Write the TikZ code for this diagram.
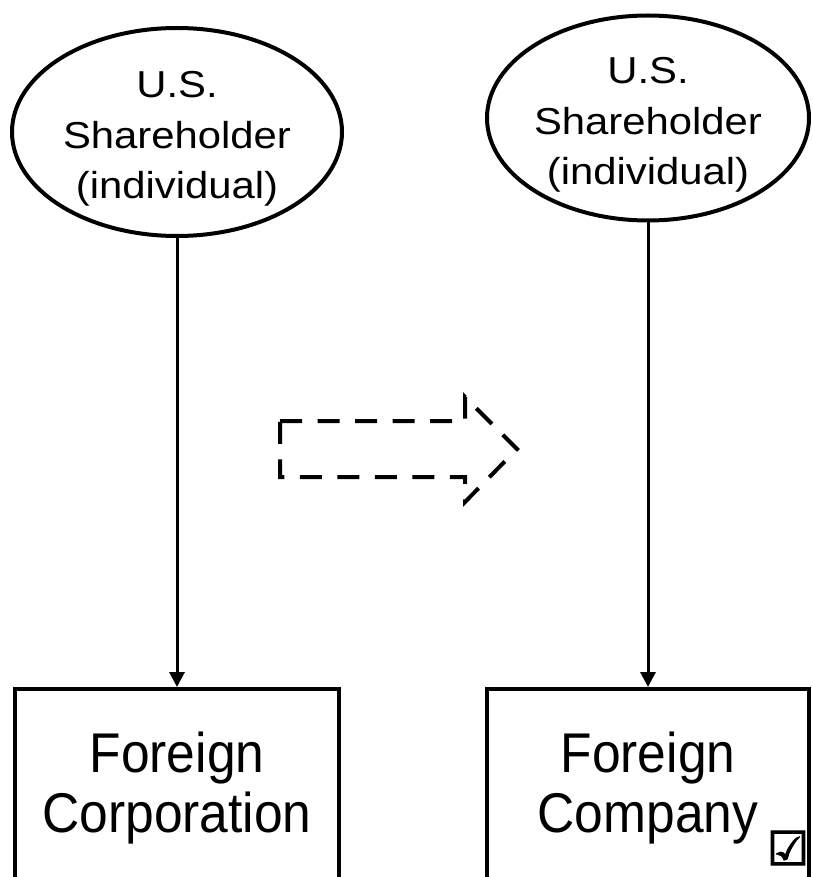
\documentclass[tikz,border=0pt]{standalone}
\usepackage{fontspec}
\setmainfont{Liberation Sans}
\newfontfamily\ownerfont[FakeStretch=1.115]{Liberation Sans}
\newfontfamily\entityfont[FakeStretch=0.92]{Liberation Sans}
\newfontfamily\symfont[FakeBold=2.5]{DejaVu Sans}
\newcommand{\stack}[1]{\begin{tabular}{@{}c@{}}#1\end{tabular}}
\usetikzlibrary{shapes.geometric,arrows.meta}

\begin{document}
\begin{tikzpicture}[x=1pt,y=-1pt,
  owner/.style={draw,ellipse,line width=4pt,inner sep=0pt},
  ownertext/.style={inner sep=0pt,font=\ownerfont\fontsize{37.5}{50.5}\selectfont},
  entity/.style={draw,rectangle,line width=4pt,inner sep=0pt,
    minimum height=202pt,font=\entityfont\fontsize{56}{60}\selectfont},
  link/.style={line width=3pt,-{Triangle[length=15pt,width=15pt]}},
  dashshape/.style={line width=4pt,dash pattern=on 22pt off 15.5pt}]
  \useasboundingbox (0,0) rectangle (812,877);
  \node[owner,minimum width=330pt,minimum height=208pt] (s1) at (177,132) {};
  \node[owner,minimum width=322pt,minimum height=205pt] (s2) at (648,118) {};
  \node[ownertext] (s1t) at ([yshift=-6.1pt]s1.center) {\stack{U.S.\\Shareholder\\(individual)}};
  \node[ownertext] (s2t) at ([yshift=-6.1pt]s2.center) {\stack{U.S.\\Shareholder\\(individual)}};
  \node[entity,minimum width=324pt] (c1) at (177,790) {\stack{Foreign\\Corporation}};
  \node[entity,minimum width=322pt] (c2) at (648,790) {\stack{Foreign\\Company}};
  \node[font=\symfont\fontsize{47}{47}\selectfont,inner sep=0pt] (tick) at (788,848) {☑};
  \draw[link] (s1) to (c1);
  \draw[link] (s2) to (c2);
  % shift arrow
  \draw[dashshape] (280,421) -- (465,421) -- (465,397) -- (517,449) -- (465,502) -- (465,477) -- (280,477) -- cycle;
\end{tikzpicture}
\end{document}
